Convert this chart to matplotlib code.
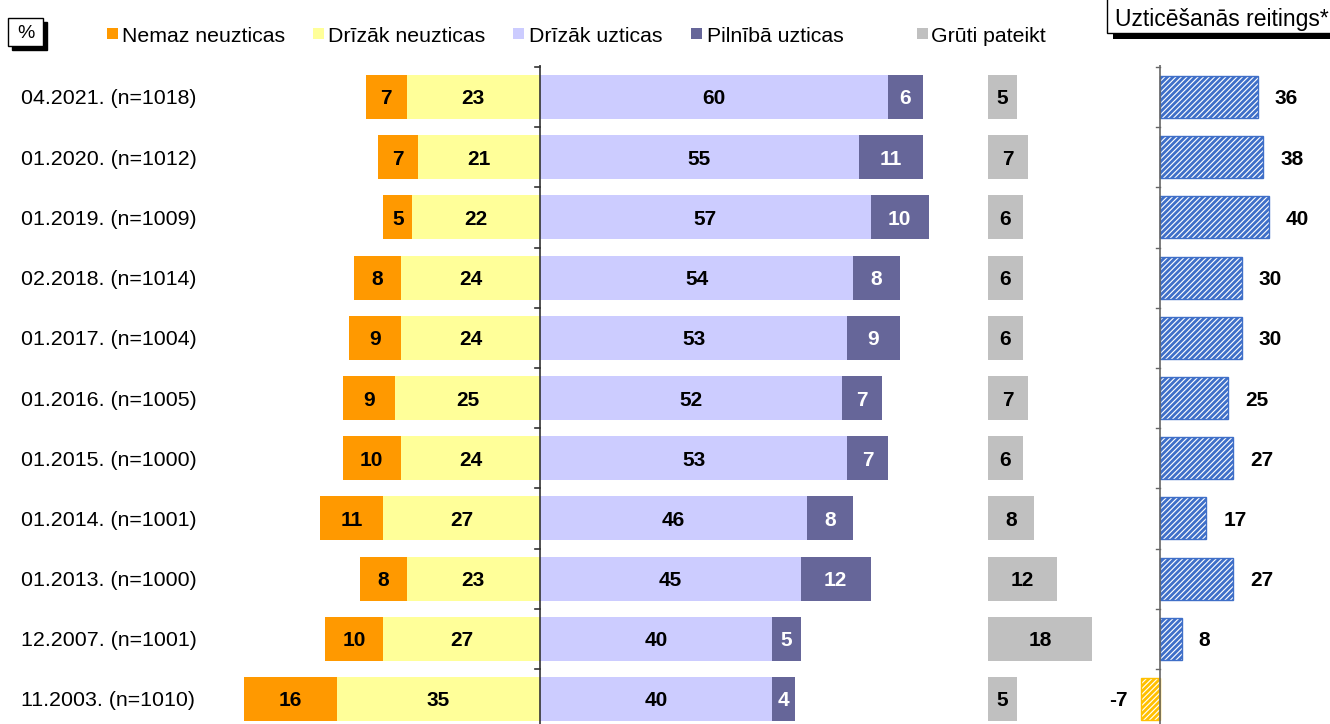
import matplotlib
matplotlib.use("Agg")
import matplotlib.pyplot as plt
from matplotlib.patches import Rectangle

plt.rcParams['font.family'] = ['Liberation Sans', 'DejaVu Sans']
plt.rcParams['hatch.linewidth'] = 2.0

labels = ["04.2021. (n=1018)", "01.2020. (n=1012)", "01.2019. (n=1009)",
          "02.2018. (n=1014)", "01.2017. (n=1004)", "01.2016. (n=1005)",
          "01.2015. (n=1000)", "01.2014. (n=1001)", "01.2013. (n=1000)",
          "12.2007. (n=1001)", "11.2003. (n=1010)"]
nemaz = [7, 7, 5, 8, 9, 9, 10, 11, 8, 10, 16]
drizak_neuz = [23, 21, 22, 24, 24, 25, 24, 27, 23, 27, 35]
drizak_uz = [60, 55, 57, 54, 53, 52, 53, 46, 45, 40, 40]
pilniba = [6, 11, 10, 8, 9, 7, 7, 8, 12, 5, 4]
gruti = [5, 7, 6, 6, 6, 7, 6, 8, 12, 18, 5]
rating = [36, 38, 40, 30, 30, 25, 27, 17, 27, 8, -7]

legend_names = ["Nemaz neuzticas", "Drīzāk neuzticas", "Drīzāk uzticas",
                "Pilnībā uzticas", "Grūti pateikt"]
colors = ["#FF9900", "#FFFF99", "#CCCCFF", "#666699", "#C0C0C0"]

W, H = 1330, 724
fig = plt.figure(figsize=(W / 100, H / 100), dpi=100)


def fx(px):
    return px / W


def fy(py):
    return 1 - py / H


scale = 5.8          # px per unit
zero_px = 540
ax_right = 1110
top_px = 65
row_sp = 60.2
first_c = 97
n = len(labels)
ylim_top = -(first_c - top_px) / row_sp
ylim_bot = (n - 1) + (H - (first_c + (n - 1) * row_sp)) / row_sp

ax = fig.add_axes([0, 0, fx(ax_right), (H - top_px) / H])
ax.set_xlim(-zero_px / scale, (ax_right - zero_px) / scale)
ax.set_ylim(ylim_bot, ylim_top)
ax.set_autoscale_on(False)

ys = list(range(n))
h = 0.73
gruti_left = 77.2
VFS = 15

for i in ys:
    a, b, c, d, g = nemaz[i], drizak_neuz[i], drizak_uz[i], pilniba[i], gruti[i]
    ax.barh(i, -b, left=0, height=h, color=colors[1], linewidth=0)
    ax.barh(i, -a, left=-b, height=h, color=colors[0], linewidth=0)
    ax.barh(i, c, left=0, height=h, color=colors[2], linewidth=0)
    ax.barh(i, d, left=c, height=h, color=colors[3], linewidth=0)
    ax.barh(i, g, left=gruti_left, height=h, color=colors[4], linewidth=0)
    kw = dict(ha='center', va='center_baseline', fontsize=VFS, fontweight='bold')
    ax.text(-b - a / 2, i, str(a), color='black', **kw)
    ax.text(-b / 2, i, str(b), color='black', **kw)
    ax.text(c / 2, i, str(c), color='black', **kw)
    ax.text(c + d / 2, i, str(d), color='white', **kw)
    ax.text(gruti_left + g / 2, i, str(g), color='black', **kw)
    ax.text((21 - zero_px) / scale, i, labels[i], ha='left',
            va='center_baseline', fontsize=15.4, color='black')

for s in ['top', 'right', 'bottom', 'left']:
    ax.spines[s].set_visible(False)
ax.axvline(0, color='#333333', linewidth=1.2)
ax.set_xticks([])
ax.set_yticks([])
for i in range(-1, n):
    ax.plot([-5 / scale, 0], [i + 0.5, i + 0.5], color='#333333', lw=1.2)

# rating axis
r_left = 1100
r_zero = 1160
r_scale = 2.72
rax = fig.add_axes([fx(r_left), 0, (W - r_left) / W, (H - top_px) / H])
rax.set_xlim(-(r_zero - r_left) / r_scale, (W - r_zero) / r_scale)
rax.set_ylim(ylim_bot, ylim_top)
rax.set_autoscale_on(False)
for i in ys:
    v = rating[i]
    ec = '#3F6FC8' if v >= 0 else '#FFC000'
    rax.barh(i, v, height=0.70, facecolor='white', edgecolor=ec,
             hatch='//////', linewidth=1.0)
    if v >= 0:
        rax.text(v + 17 / r_scale, i, str(v), ha='left', va='center_baseline',
                 fontsize=VFS, fontweight='bold')
    else:
        rax.text(v - 13 / r_scale, i, str(v), ha='right', va='center_baseline',
                 fontsize=VFS, fontweight='bold')
for s in ['top', 'right', 'bottom', 'left']:
    rax.spines[s].set_visible(False)
rax.axvline(0, color='#666666', linewidth=1.2)
rax.set_xticks([])
rax.set_yticks([])
for i in range(-1, n):
    rax.plot([-4 / r_scale, 0], [i + 0.5, i + 0.5], color='#666666', lw=1.0)

# legend
leg_y = 34
leg_items = [(107, 122), (313, 328), (513, 529), (691, 707), (917, 931)]
for (mx, tx), name, col in zip(leg_items, legend_names, colors):
    fig.add_artist(Rectangle((fx(mx), fy(leg_y + 5)), fx(11), 11 / H,
                             transform=fig.transFigure, facecolor=col,
                             edgecolor='none'))
    fig.text(fx(tx), fy(leg_y), name, ha='left', va='center_baseline',
             fontsize=15.3)

# "%" box
fig.add_artist(Rectangle((fx(12), fy(50)), fx(35), 28 / H,
                         transform=fig.transFigure, facecolor='black',
                         edgecolor='black'))
fig.add_artist(Rectangle((fx(8), fy(46)), fx(35), 28 / H,
                         transform=fig.transFigure, facecolor='white',
                         edgecolor='black', linewidth=1))
fig.text(fx(25.5), fy(32), "%", ha='center', va='center_baseline', fontsize=14)

# rating header box
fig.add_artist(Rectangle((fx(1113), fy(39)), fx(230), 7 / H,
                         transform=fig.transFigure, facecolor='black',
                         edgecolor='none'))
fig.add_artist(Rectangle((fx(1107), fy(33)), fx(240), 36 / H,
                         transform=fig.transFigure, facecolor='white',
                         edgecolor='black', linewidth=1))
fig.text(fx(1115), fy(17), "Uzticēšanās reitings*", ha='left',
         va='center_baseline', fontsize=16.5)

fig.savefig("out.png", dpi=100)
